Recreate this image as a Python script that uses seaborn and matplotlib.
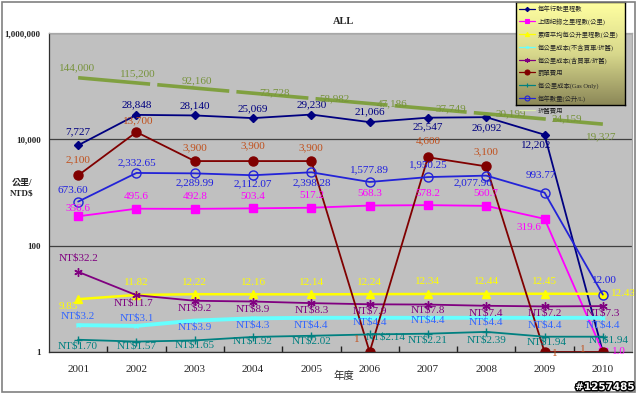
import numpy as np
import matplotlib
matplotlib.use("Agg")
import matplotlib.pyplot as plt
import matplotlib.patheffects as pe
from matplotlib.patches import Rectangle
from matplotlib.lines import Line2D
from matplotlib.colors import LinearSegmentedColormap
from matplotlib.ticker import NullLocator, FixedLocator
import seaborn as sns

years = [2001, 2002, 2003, 2004, 2005, 2006, 2007, 2008, 2009, 2010]

mileage      = [7727, 28848, 28140, 25069, 29230, 21066, 25547, 26092, 12202, 1]
trip_km      = [356.6, 495.6, 492.8, 503.4, 517.2, 568.3, 578.2, 560.7, 319.6, 1.0]
km_per_l     = [9.85, 11.82, 12.22, 12.16, 12.14, 12.24, 12.34, 12.44, 12.45, 12.43]
cost_excl    = [3.2, 3.1, 3.9, 4.3, 4.4, 4.4, 4.4, 4.4, 4.4, 4.4]
cost_incl    = [32.2, 11.7, 9.2, 8.9, 8.3, 7.9, 7.8, 7.4, 7.2, 7.3]
fines        = [2100, 13700, 3900, 3900, 3900, 1, 4600, 3100, 1, 1]
cost_gas     = [1.70, 1.57, 1.65, 1.92, 2.02, 2.14, 2.21, 2.39, 1.94, 1.94]
liters       = [673.60, 2332.65, 2289.99, 2112.07, 2398.28, 1577.89, 1950.25, 2077.96, 993.77, 12.00]
depreciation = [144000, 115200, 92160, 73728, 58982, 47186, 37749, 30199, 24159, 19327]

names = ["每年行駛里程數", "上個紀錄之里程數(公里)", "累積平均每公升里程數(公里)",
         "每公里成本(不含買車/折舊)", "每公里成本(含買車/折舊)", "罰單費用",
         "每公里成本(Gas Only)", "每年數量(公升/L)", "折舊費用"]

sns.set_theme(style="white")
plt.rcParams['font.family'] = ['Liberation Serif', 'Noto Sans CJK TC', 'DejaVu Sans']

# label offsets in pixels (dx, dy), None = no label
series = [
    dict(v=mileage, c="#000080", tc="#000080", m="D", ms=4, lw=1.3, fmt="{:,.0f}",
         off=[(0, 14), (0, 10), (0, 10), (0, 9), (0, 10), (0, 10), (0, -9), (0, -11), (-8, -10), None]),
    dict(v=trip_km, c="#ff00ff", tc="#ff00ff", m="s", ms=5.5, lw=1.3, fmt="{:.1f}",
         off=[(0, 8), (0, 12), (0, 12), (0, 12), (0, 12), (0, 12), (0, 12), (0, 12), (-16, -9), (16, 0)]),
    dict(v=km_per_l, c="#ffff00", tc="#ffff00", m="^", ms=5.5, lw=1.8, fmt="{:.2f}",
         off=[(-10, -7), (0, 12), (0, 12), (0, 12), (0, 12), (0, 12), (0, 12), (0, 12), (0, 12), (21, 0)]),
    dict(v=cost_excl, c="#66ffff", tc="#3366ff", m="x", ms=3, lw=2.8, fmt="NT${:.1f}",
         off=[(0, 9), (0, 8), (0, -6), (0, -7), (0, -7), (0, -4), (0, -2), (0, -4), (0, -7), (0, -7)]),
    dict(v=cost_incl, c="#800080", tc="#800080", m=(6, 2, 0), ms=6, lw=1.3, fmt="NT${:.1f}",
         off=[(0, 14), (-3, -8), (0, -7), (0, -7), (0, -7), (0, -7), (0, -5), (0, -7), (0, -7), (0, -7)]),
    dict(v=fines, c="#800000", tc="#c0501c", m="o", ms=6.5, lw=1.3, fmt="{:,.0f}",
         off=[(0, 16), (2, 11), (0, 13), (0, 15), (0, 13), (-13, 13), (0, 16), (0, 15), (10, -1), (-20, 2)]),
    dict(v=cost_gas, c="#008080", tc="#008080", m="+", ms=6, lw=1.3, fmt="NT${:.2f}",
         off=[(0, -6), (0, -4), (0, -5), (0, -4), (0, -5), (16, -3), (0, -6), (0, -8), (2, -5), (6, -3)]),
    dict(v=liters, c="#2323d8", tc="#1f1fe0", m="o", ms=6.5, lw=1.3, fmt="{:,.2f}", open=True,
         off=[(-5, 11), (0, 10), (0, -9), (0, -9), (0, -10), (0, 12), (0, 12), (-13, -7), (-4, 17), (2, 14)]),
    dict(v=depreciation, c="#80a040", tc="#77933c", m=None, ms=0, lw=2.6, fmt="{:,.0f}", ls=(0, (20, 2)),
         off=[(-1, 10), (1, 9), (2, 7), (21, 0), (23, 0), (22, 0), (23, 0), (24, 0), (22, 0), (-2, -13)]),
]

fig = plt.figure(figsize=(6.4, 3.95), dpi=100)
ax = fig.add_axes([49 / 640, 1 - 352 / 395, (632 - 49) / 640, (352 - 33) / 395])
ax.set_facecolor("#c0c0c0")
ax.set_yscale("log")

handles = []
for name, s in zip(names, series):
    kw = dict(marker=s["m"], markersize=s["ms"], markeredgecolor=s["c"], markeredgewidth=1.0,
              markerfacecolor="none" if s.get("open") else s["c"],
              linestyle=s.get("ls", "-"))
    sns.lineplot(x=years, y=s["v"], ax=ax, color=s["c"], linewidth=s["lw"], label=name,
                 legend=False, errorbar=None, **kw)
    for x, y, o in zip(years, s["v"], s["off"]):
        if o is None:
            continue
        ax.annotate(s["fmt"].format(y), (x, y), xytext=o, textcoords="offset pixels",
                    ha="center", va="center", fontsize=8, color=s["tc"], zorder=5)
    handles.append(Line2D([], [], color=s["c"] if s["m"] else "#d8e8b0", linewidth=0.9,
                          marker=s["m"], markersize=s["ms"] * 0.55, markeredgewidth=0.8,
                          markeredgecolor=s["c"],
                          markerfacecolor="none" if s.get("open") else s["c"]))

ax.set_xlim(2000.5, 2010.5)
ax.set_ylim(1, 1e6)
ax.set_xticks(years)
ax.set_xticklabels([str(y) for y in years], fontsize=8)
ax.xaxis.set_minor_locator(FixedLocator(np.arange(2001.5, 2010, 1)))
ax.tick_params(axis="x", which="major", length=0, pad=9)
ax.tick_params(axis="x", which="minor", direction="in", length=4, color="#202020", bottom=True)
ax.set_yticks([1, 100, 1e4, 1e6])
ax.set_yticklabels(["1", "100", "10,000", "1,000,000"], fontsize=6.5, fontweight="bold")
ax.yaxis.set_minor_locator(NullLocator())
ax.tick_params(axis="y", length=0, pad=6)
ax.grid(axis="y", which="major", color="#404040", linewidth=0.9)
ax.set_xlabel("")
ax.set_ylabel("")
for side in ["left", "bottom"]:
    ax.spines[side].set_color("#303030")
    ax.spines[side].set_linewidth(0.9)
for side in ["top", "right"]:
    ax.spines[side].set_color("#a8a8a8")
    ax.spines[side].set_linewidth(0.9)

# legend with gradient background
lx0, ly0, lx1, ly1 = 516, 2, 625, 105
lax = fig.add_axes([lx0 / 640, 1 - ly1 / 395, (lx1 - lx0) / 640, (ly1 - ly0) / 395])
grad = LinearSegmentedColormap.from_list("g", ["#8c8858", "#d8d88c", "#ffffa0"])
lax.imshow(np.linspace(0, 1, 100).reshape(-1, 1)[::-1], aspect="auto", cmap=grad, extent=[0, 1, 0, 1])
lax.set_xticks([])
lax.set_yticks([])
for sp in lax.spines.values():
    sp.set_color("black")
    sp.set_linewidth(1)

fig.legend(handles, names, loc="upper left", bbox_to_anchor=(lx0 / 640, 1 - ly0 / 395),
           frameon=False, fontsize=4.6, handlelength=2.4, labelspacing=0.95, borderpad=0.3,
           borderaxespad=0.2, handletextpad=0.5)

fig.text(344 / 640, 1 - 22 / 395, "ALL", ha="center", va="center", fontsize=7.5, fontweight="bold")
fig.text(22 / 640, 1 - 188 / 395, "公里/\nNTD$", ha="center", va="center", fontsize=6.5,
         fontweight="bold", linespacing=1.5)
fig.text(344 / 640, 1 - 376 / 395, "年度", ha="center", va="center", fontsize=7.5)
fig.text(605 / 640, 1 - 387 / 395, "#1257485", ha="center", va="center", fontsize=7.5,
         fontweight="bold", color="white", family="DejaVu Sans",
         path_effects=[pe.withStroke(linewidth=2, foreground="black")])

fig.patches.append(Rectangle((2 / 640, 3 / 395), 633 / 640, 390 / 395, transform=fig.transFigure,
                             fill=False, edgecolor="#808080", linewidth=1.2))

fig.savefig("out.png", dpi=100)
